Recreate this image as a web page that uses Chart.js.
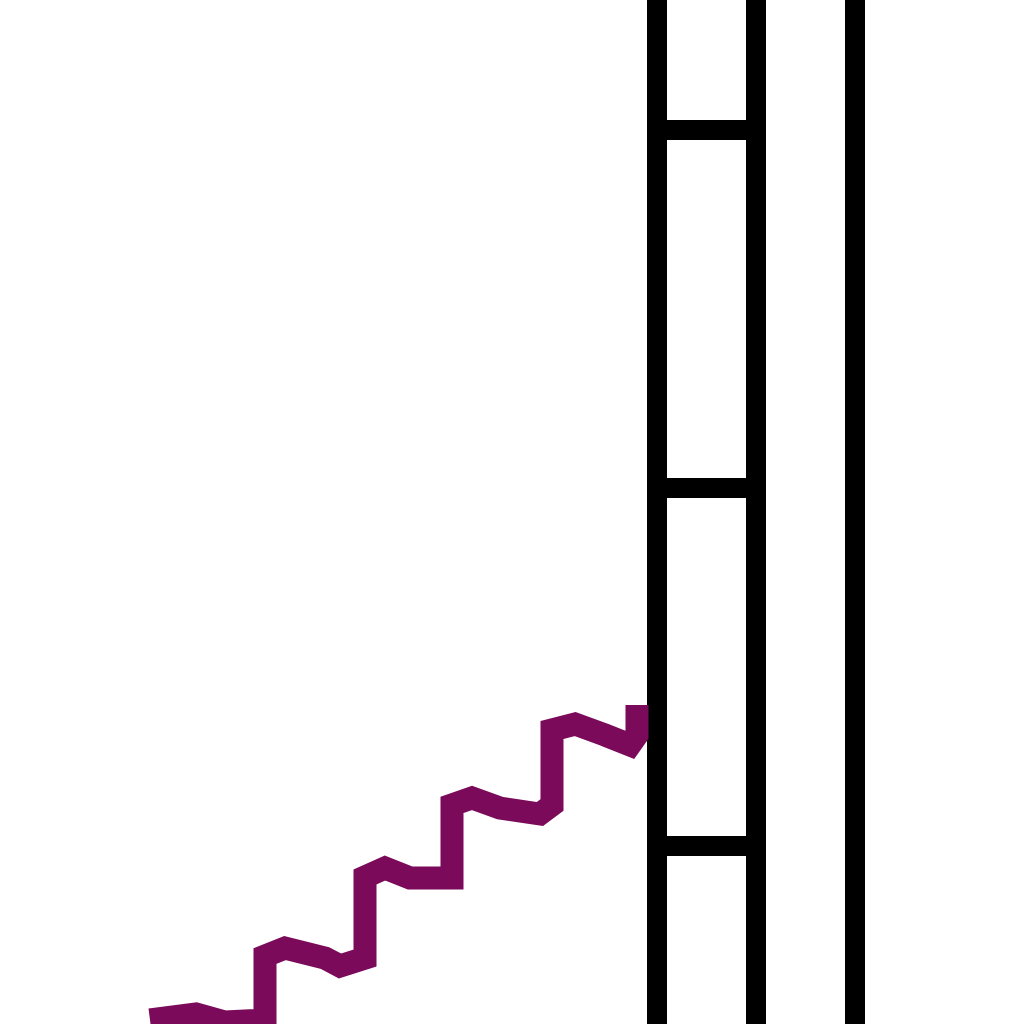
<!DOCTYPE html>
<html>
<head>
<meta charset="utf-8">
<script src="https://cdn.jsdelivr.net/npm/chart.js@4"></script>
<style>
  html, body { margin: 0; padding: 0; background: #fff; }
  #wrap { width: 1024px; height: 1024px; }
</style>
</head>
<body>
<div id="wrap"><canvas id="chart"></canvas></div>
<script>
// purple trace
const curveX = [150, 196, 225, 265, 265, 285, 325, 340, 365, 365, 385, 410, 452, 452, 472, 500, 540, 552, 552, 575, 605, 630, 637, 637];
const curveY = [1020, 1014, 1022, 1020, 956, 948, 958, 966, 958, 877, 868, 878, 878, 805, 798, 808, 814, 805, 730, 724, 735, 745, 735, 705];

// black rails and rungs
const railX = [657, 756, 855];
const rungY = [130, 488, 846];
const rungFrom = 657, rungTo = 756;

const datasets = [];

datasets.push({
  data: curveX.map((x, i) => ({x: x, y: curveY[i]})),
  borderColor: "#7b0a5a",
  borderWidth: 23,
  borderJoinStyle: "miter",
  pointRadius: 0,
  tension: 0
});

railX.forEach(x => {
  datasets.push({
    data: [{x: x, y: -20}, {x: x, y: 1044}],
    borderColor: "#000",
    borderWidth: 20,
    pointRadius: 0
  });
});

rungY.forEach(y => {
  datasets.push({
    data: [{x: rungFrom, y: y}, {x: rungTo, y: y}],
    borderColor: "#000",
    borderWidth: 20,
    pointRadius: 0
  });
});

new Chart(document.getElementById("chart"), {
  type: "line",
  data: { datasets: datasets },
  options: {
    responsive: true,
    maintainAspectRatio: false,
    animation: false,
    layout: { padding: 0 },
    plugins: { legend: { display: false }, tooltip: { enabled: false } },
    datasets: { line: { clip: false } },
    scales: {
      x: { type: "linear", min: 0, max: 1024, display: false },
      y: { type: "linear", min: 0, max: 1024, reverse: true, display: false }
    }
  }
});
</script>
</body>
</html>
